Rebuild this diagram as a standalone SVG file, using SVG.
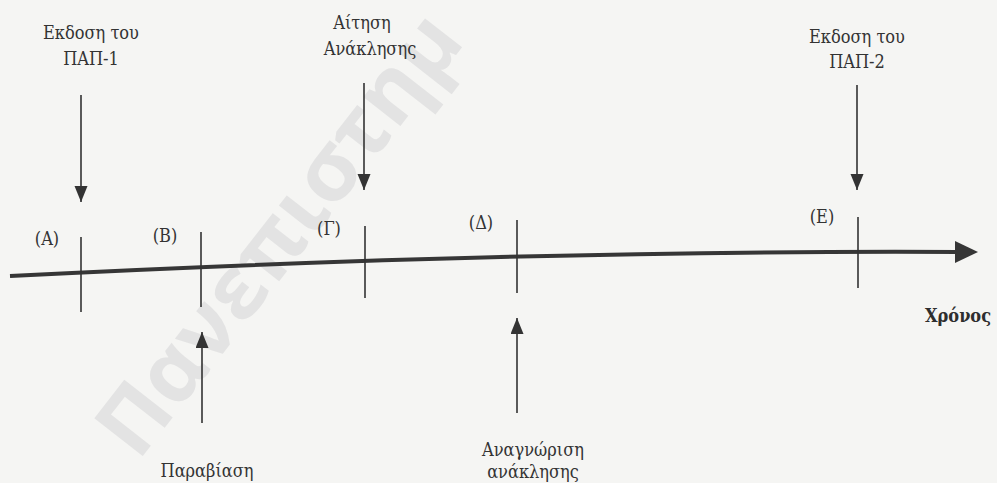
<svg xmlns="http://www.w3.org/2000/svg" width="997" height="483" viewBox="0 0 997 483">
  <style>
    .lbl { font-family: "DejaVu Serif Condensed", "DejaVu Serif", serif; font-size: 18px; fill: #333; text-anchor: middle; }
    .axis-name { font-family: "DejaVu Serif Condensed", "DejaVu Serif", serif; font-size: 18px; font-weight: bold; fill: #2e2e2e; }
    .tick { stroke: #333; stroke-width: 1.6; fill: none; }
    .arrow { stroke: #333; stroke-width: 1.6; fill: none; marker-end: url(#head); }
    .axis { stroke: #363636; stroke-width: 4; fill: none; }
    .mark { font-family: "Open Sans", "DejaVu Sans", sans-serif; font-size: 86px; font-weight: bold; fill: #e3e3e3; }
  </style>
  <defs>
    <marker id="head" markerUnits="userSpaceOnUse" markerWidth="17" markerHeight="14" refX="16" refY="6.5" orient="auto">
      <path d="M0,0 L16,6.5 L0,13 Z" fill="#333"/>
    </marker>
  </defs>

  <rect width="997" height="483" fill="#f5f5f3"/>

  <!-- background watermark -->
  <text class="mark" transform="translate(138,462) rotate(-52)">Πανεπιστημ</text>

  <!-- time axis -->
  <g id="axis">
    <path class="axis" d="M10,276 Q520,250 958,252"/>
    <polygon points="955,241 978,252 955,263" fill="#363636"/>
    <text class="axis-name" x="925" y="322">Χρόνος</text>
  </g>

  <!-- events on the axis -->
  <g id="event-a">
    <line class="tick" x1="81" y1="237" x2="81" y2="312"/>
    <text class="lbl" x="47" y="245">(Α)</text>
  </g>
  <g id="event-b">
    <line class="tick" x1="201" y1="232" x2="201" y2="307"/>
    <text class="lbl" x="165" y="242">(Β)</text>
  </g>
  <g id="event-c">
    <line class="tick" x1="365" y1="226" x2="365" y2="298"/>
    <text class="lbl" x="329" y="235">(Γ)</text>
  </g>
  <g id="event-d">
    <line class="tick" x1="517" y1="220" x2="517" y2="293"/>
    <text class="lbl" x="481" y="229">(Δ)</text>
  </g>
  <g id="event-e">
    <line class="tick" x1="858" y1="217" x2="858" y2="288"/>
    <text class="lbl" x="822" y="223">(Ε)</text>
  </g>

  <!-- captions -->
  <g id="note-pap1">
    <text class="lbl" x="91" y="39">Εκδοση του</text>
    <text class="lbl" x="91" y="65">ΠΑΠ-1</text>
  </g>
  <g id="note-request">
    <text class="lbl" x="362" y="29">Αίτηση</text>
    <text class="lbl" x="370" y="55">Ανάκλησης</text>
  </g>
  <g id="note-pap2">
    <text class="lbl" x="857" y="43">Εκδοση του</text>
    <text class="lbl" x="857" y="68">ΠΑΠ-2</text>
  </g>
  <g id="note-breach">
    <text class="lbl" x="207" y="477">Παραβίαση</text>
  </g>
  <g id="note-recognition">
    <text class="lbl" x="533" y="456">Αναγνώριση</text>
    <text class="lbl" x="533" y="478">ανάκλησης</text>
  </g>

  <!-- pointers -->
  <g id="connectors">
    <line class="arrow" x1="81" y1="95" x2="81" y2="202"/>
    <line class="arrow" x1="364" y1="83" x2="364" y2="190"/>
    <line class="arrow" x1="857" y1="85" x2="857" y2="190"/>
    <line class="arrow" x1="202" y1="423" x2="202" y2="332"/>
    <line class="arrow" x1="517" y1="413" x2="517" y2="318"/>
  </g>
</svg>
